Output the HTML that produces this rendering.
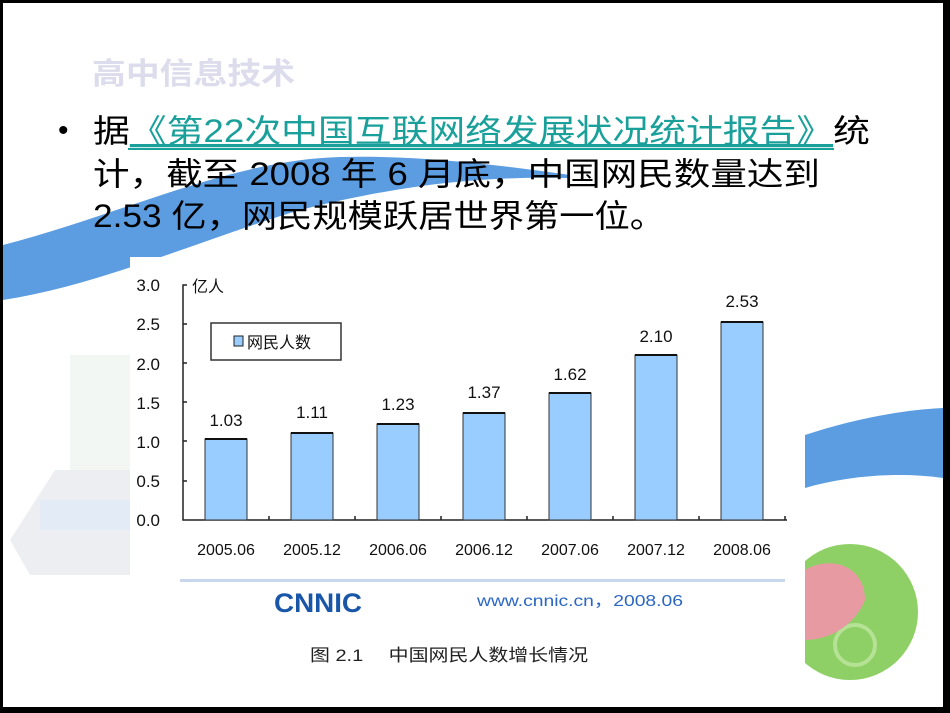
<!DOCTYPE html>
<html><head><meta charset="utf-8"><style>
html,body{margin:0;padding:0;background:#000;}
#s{position:absolute;left:0;top:0;width:950px;height:713px;background:#000;overflow:hidden;font-family:"Liberation Sans","Noto Sans CJK SC",sans-serif;}
#w{position:absolute;left:3px;top:3px;width:940px;height:704px;background:#fff;}
</style></head><body><div id="s"><div id="w"></div>
<svg width="950" height="713" style="position:absolute;left:0;top:0;font-family:'Liberation Sans','Noto Sans CJK SC',sans-serif">
<path d="M3,245 C120,215 230,160 340,157 C420,155 500,165 570,175 L570,178 C480,176 400,185 300,210 C200,240 100,285 3,300 Z" fill="#5b9de0"/>
<path d="M805,435 C850,420 900,410 943,408 L943,478 C900,472 850,475 805,488 Z" fill="#5b9de0"/>
<rect x="70" y="355" width="70" height="170" fill="#f2f7f4"/>
<path d="M10,540 L55,470 L140,470 L140,575 L30,575 Z" fill="#eceef1"/>
<rect x="40" y="500" width="100" height="30" fill="#e2ebf6"/>
<circle cx="850" cy="612" r="68" fill="#8fd066"/>
<circle cx="855" cy="645" r="20" fill="none" stroke="#b5e295" stroke-width="4"/>
<path d="M805,570 C830,555 865,565 865,600 C855,625 830,640 805,640 Z" fill="#e89aa2"/>
<text x="92" y="84" font-size="30" font-weight="bold" fill="#dcdcec" textLength="203" lengthAdjust="spacingAndGlyphs">高中信息技术</text>
<text x="58" y="140" font-size="30" fill="#000">•</text>
<text x="93" y="142" font-size="32" fill="#000" textLength="777" lengthAdjust="spacingAndGlyphs">据<tspan fill="#1aa09a" text-decoration="underline">《第22次中国互联网络发展状况统计报告》</tspan>统</text>
<rect x="128" y="148" width="706" height="2" fill="#1aa09a"/>
<text x="93" y="185" font-size="32" fill="#000" textLength="727" lengthAdjust="spacingAndGlyphs">计，截至 2008 年 6 月底，中国网民数量达到</text>
<text x="93" y="227" font-size="32" fill="#000" textLength="572" lengthAdjust="spacingAndGlyphs">2.53 亿，网民规模跃居世界第一位。</text>
<rect x="130" y="257" width="675" height="421" fill="#fff"/>
<g font-size="17" fill="#111" text-anchor="end">
<text x="160" y="291">3.0</text><text x="160" y="330">2.5</text><text x="160" y="370">2.0</text><text x="160" y="409">1.5</text><text x="160" y="448">1.0</text><text x="160" y="487">0.5</text><text x="160" y="526">0.0</text>
</g>
<text x="192" y="292" font-size="16" fill="#111">亿人</text>
<g stroke="#222" stroke-width="1.5" fill="none">
<path d="M187,285 H183 V520 H787"/>
<path d="M183,324 h4 M183,363 h4 M183,402 h4 M183,441 h4 M183,481 h4"/>
<path d="M269,520 v-4 M355,520 v-4 M441,520 v-4 M527,520 v-4 M613,520 v-4 M699,520 v-4 M785,520 v-4"/>
</g>
<rect x="211" y="323" width="130" height="37" fill="#fff" stroke="#333" stroke-width="1.5"/>
<rect x="234" y="336" width="9" height="10" fill="#99ccff" stroke="#222"/>
<text x="247" y="348" font-size="16" fill="#111">网民人数</text>
<g fill="#99ccff" stroke="#333" stroke-width="1">
<rect x="205" y="439" width="42" height="81"/><rect x="291" y="433" width="42" height="87"/><rect x="377" y="424" width="42" height="96"/><rect x="463" y="413" width="42" height="107"/><rect x="549" y="393" width="42" height="127"/><rect x="635" y="355" width="42" height="165"/><rect x="721" y="322" width="42" height="198"/>
</g>
<g stroke="#111" stroke-width="2"><path d="M205,439h42 M291,433h42 M377,424h42 M463,413h42 M549,393h42 M635,355h42 M721,322h42"/></g>
<g font-size="17" fill="#111" text-anchor="middle">
<text x="226" y="426">1.03</text><text x="312" y="418">1.11</text><text x="398" y="410">1.23</text><text x="484" y="398">1.37</text><text x="570" y="380">1.62</text><text x="656" y="342">2.10</text><text x="742" y="307">2.53</text>
<g font-size="16"><text x="226" y="555">2005.06</text><text x="312" y="555">2005.12</text><text x="398" y="555">2006.06</text><text x="484" y="555">2006.12</text><text x="570" y="555">2007.06</text><text x="656" y="555">2007.12</text><text x="742" y="555">2008.06</text></g>
</g>
<rect x="180" y="579" width="605" height="3" fill="#c8d6ee"/>
<text x="274" y="612" font-size="27" font-weight="bold" fill="#1a56a8" textLength="88" lengthAdjust="spacingAndGlyphs">CNNIC</text>
<text x="477" y="606" font-size="16" fill="#2a66c4" textLength="206" lengthAdjust="spacingAndGlyphs">www.cnnic.cn，2008.06</text>
<text x="310" y="661" font-size="17" fill="#222" textLength="278" lengthAdjust="spacingAndGlyphs">图 2.1　 中国网民人数增长情况</text>
</svg>
</div></body></html>
